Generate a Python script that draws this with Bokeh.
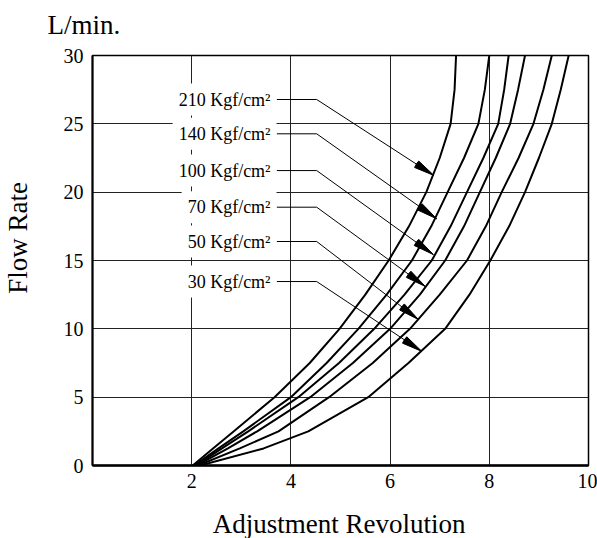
import math
from bokeh.plotting import figure
from bokeh.models import Range1d, FixedTicker, Label
from bokeh.embed import file_html
from bokeh.resources import INLINE

# ---- data ----
flow = [0, 1.25, 2.5, 5, 7.5, 10, 12.5, 15, 17.5, 20, 22.5, 25, 27.5, 30]
rev_210 = [2.02, 2.43, 2.85, 3.67, 4.38, 4.98, 5.50, 5.97, 6.38, 6.73, 7.00, 7.22, 7.30, 7.33]
rev_140 = [2.05, 2.54, 3.04, 4.00, 4.72, 5.36, 5.93, 6.44, 6.83, 7.16, 7.49, 7.78, 7.91, 8.00]
rev_100 = [2.08, 2.61, 3.14, 4.15, 4.97, 5.68, 6.29, 6.84, 7.22, 7.55, 7.88, 8.18, 8.30, 8.39]
rev_70 = [2.10, 2.73, 3.32, 4.39, 5.25, 6.00, 6.60, 7.11, 7.49, 7.81, 8.13, 8.42, 8.58, 8.72]
rev_50 = [2.13, 2.97, 3.75, 4.77, 5.65, 6.40, 7.00, 7.55, 7.93, 8.25, 8.59, 8.89, 9.09, 9.26]
rev_30 = [2.17, 3.45, 4.35, 5.56, 6.37, 7.11, 7.60, 8.02, 8.40, 8.72, 9.00, 9.26, 9.44, 9.60]
series = [rev_210, rev_140, rev_100, rev_70, rev_50, rev_30]

pressure_labels = ["210 Kgf/cm²", "140 Kgf/cm²", "100 Kgf/cm²",
                   "70 Kgf/cm²", "50 Kgf/cm²", "30 Kgf/cm²"]
label_flow = [26.78, 24.27, 21.58, 18.90, 16.39, 13.46]
tip_rev = [6.885, 6.94, 6.87, 6.71, 6.57, 6.64]
tip_flow = [21.22, 18.05, 15.44, 13.10, 10.68, 8.35]
label_rev = 3.71
leader_start = 3.714
leader_elbow = 4.52

x_ticks = [2, 4, 6, 8, 10]
y_ticks = [0, 5, 10, 15, 20, 25, 30]

FONT = "Liberation Serif"
W, H = 597, 538
MB_L, MB_R, MB_T, MB_B = 92, 9, 55, 73

p = figure(width=W, height=H, output_backend="svg", toolbar_location=None,
           x_range=Range1d(0, 10), y_range=Range1d(0, 30),
           min_border_left=MB_L, min_border_right=MB_R,
           min_border_top=MB_T, min_border_bottom=MB_B)
p.background_fill_color = "white"
p.border_fill_color = "white"
p.outline_line_color = "black"
p.outline_line_width = 1.5

# axes
p.xaxis.ticker = FixedTicker(ticks=x_ticks)
p.yaxis.ticker = FixedTicker(ticks=y_ticks)
for ax in (p.xaxis[0], p.yaxis[0]):
    ax.major_tick_line_color = None
    ax.minor_tick_line_color = None
    ax.major_tick_out = 0
    ax.major_tick_in = 0
    ax.major_label_text_font = FONT
    ax.major_label_text_font_size = "20px"
    ax.major_label_text_color = "black"
    ax.axis_line_color = "black"
p.xaxis.axis_line_width = 2.5
p.yaxis.axis_line_width = 2
p.xaxis.major_label_standoff = 8
p.yaxis.major_label_standoff = 9

# grid
p.xgrid.ticker = FixedTicker(ticks=[2, 4, 6, 8])
p.ygrid.ticker = FixedTicker(ticks=[5, 10, 15, 20, 25])
for g in (p.xgrid[0], p.ygrid[0]):
    g.grid_line_color = "#222222"
    g.grid_line_width = 1
    g.grid_line_alpha = 1

# curves
for xs in series:
    p.line(xs, flow, line_color="black", line_width=2)

# leader lines
lx = [[leader_start, leader_elbow, tx] for tx in tip_rev]
ly = [[fy, fy, ty] for fy, ty in zip(label_flow, tip_flow)]
p.multi_line(lx, ly, line_color="black", line_width=1)

# arrow heads (wedges in screen units, apex at the tip)
fw = W - MB_L - MB_R
fh = H - MB_T - MB_B
sx = fw / 10.0
sy = fh / 30.0
starts, ends = [], []
half = math.radians(10.5)
for tx, ty, fy in zip(tip_rev, tip_flow, label_flow):
    th = math.atan2((fy - ty) * sy, (leader_elbow - tx) * sx)
    starts.append(th - half)
    ends.append(th + half)
p.wedge(x=tip_rev, y=tip_flow, radius=21, radius_units="screen",
        start_angle=starts, end_angle=ends, fill_color="black", line_color="black")

# pressure labels
for txt, fy in zip(pressure_labels, label_flow):
    p.add_layout(Label(x=label_rev, y=fy, text=txt, text_align="right",
                       text_baseline="middle", text_font=FONT,
                       text_font_size="18px", text_color="black",
                       background_fill_color="white", padding=6))

# titles (placed in side panels so they are not clipped to the frame)
p.add_layout(Label(x=-0.907, y=32.25, text="L/min.", text_align="left",
                   text_baseline="alphabetic", text_font=FONT,
                   text_font_size="27px", text_color="black"), "above")
p.add_layout(Label(x=-1.51, y=16.65, text="Flow Rate", angle=math.pi / 2,
                   text_align="center", text_baseline="middle", text_font=FONT,
                   text_font_size="27px", text_color="black"), "left")
p.add_layout(Label(x=4.97, y=-4.27, text="Adjustment Revolution",
                   text_align="center", text_baseline="alphabetic",
                   text_font=FONT, text_font_size="27px", text_color="black"), "below")

open("out.html", "w").write(file_html(p, INLINE))
